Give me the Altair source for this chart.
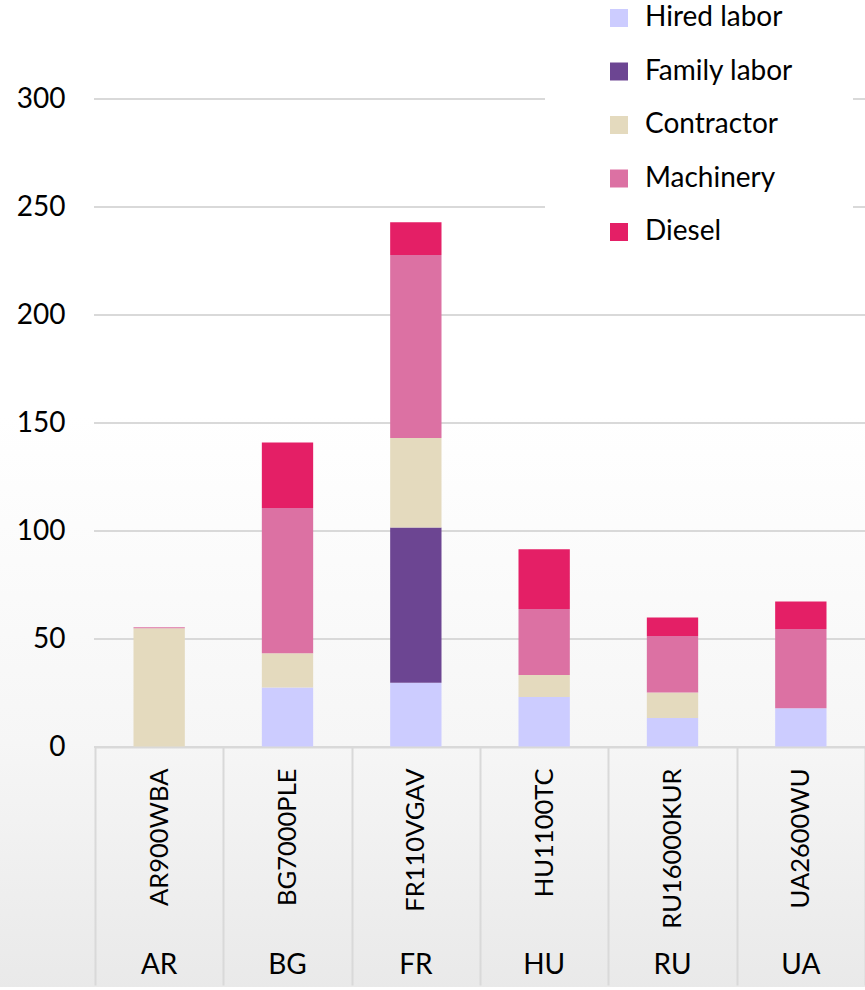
import altair as alt
import pandas as pd

farms = ["AR900WBA", "BG7000PLE", "FR110VGAV", "HU1100TC", "RU16000KUR", "UA2600WU"]
series = ["Hired labor", "Family labor", "Contractor", "Machinery", "Diesel"]
colors = ["#CCCCFF", "#6C4592", "#E4DABE", "#DC71A3", "#E41F66"]

hired = [0.0, 27.5, 29.7, 23.1, 13.4, 17.9]
family = [0.0, 0.0, 71.9, 0.0, 0.0, 0.0]
contractor = [55.0, 15.9, 41.5, 10.2, 11.8, 0.0]
machinery = [0.4, 67.2, 84.7, 30.6, 26.2, 36.7]
diesel = [0.0, 30.4, 15.1, 27.6, 8.6, 12.8]

y_ticks = [0, 50, 100, 150, 200, 250, 300]

values = [hired, family, contractor, machinery, diesel]
rows = []
for i, s in enumerate(series):
    for j, f in enumerate(farms):
        rows.append({"farm": f, "series": s, "idx": i, "value": values[i][j]})
df = pd.DataFrame(rows)
ticks_df = pd.DataFrame({"tick": y_ticks})

FONT = "Lato"
FS = 28
W, H = 770, 648
PAD_L, PAD_T, PAD_B = 95, 99, 240

x_scale = alt.Scale(domain=farms, paddingInner=0, paddingOuter=0)
y_scale = alt.Scale(domain=[0, 300], nice=False)

bg = alt.Chart(alt.Data(values=[{"a": 1}])).mark_rect(
    fill=alt.LinearGradient(
        gradient="linear",
        x1=0, x2=0, y1=0, y2=1,
        stops=[
            alt.GradientStop(offset=0, color="#ffffff"),
            alt.GradientStop(offset=0.42, color="#ffffff"),
            alt.GradientStop(offset=0.75, color="#f6f6f6"),
            alt.GradientStop(offset=1, color="#e9e9e9"),
        ],
    )
).encode(
    x=alt.value(-PAD_L), x2=alt.value(W),
    y=alt.value(-PAD_T), y2=alt.value(H + PAD_B + 3),
)

grid = alt.Chart(ticks_df).mark_rule(color="#d9d9d9", strokeWidth=2).encode(
    y=alt.Y("tick:Q", scale=y_scale, title=None),
    x=alt.value(-1), x2=alt.value(W),
)

bars = alt.Chart(df).mark_bar(width=alt.RelativeBandSize(0.4)).encode(
    x=alt.X(
        "farm:N", scale=x_scale, title=None,
        axis=alt.Axis(
            orient="bottom", labelAngle=270, tickBand="extent", tickSize=238,
            tickColor="#d9d9d9", tickWidth=2, domainColor="#d9d9d9", domainWidth=2,
            labelPadding=-217, labelFontSize=25.5, labelFont=FONT, labelColor="#000000",
            grid=False, zindex=1,
        ),
    ),
    y=alt.Y(
        "value:Q", stack="zero", title=None, scale=y_scale,
        axis=alt.Axis(
            values=y_ticks, domain=False, ticks=False, labelPadding=30, grid=False,
            labelFontSize=FS, labelFont=FONT, labelColor="#000000", zindex=1,
        ),
    ),
    color=alt.Color(
        "series:N",
        scale=alt.Scale(domain=series, range=colors),
        legend=alt.Legend(
            title=None, orient="none", legendX=450, legendY=-155,
            symbolType="square", symbolSize=324, symbolStrokeWidth=0,
            labelFont=FONT, labelFontSize=FS, labelColor="#000000", labelOffset=12,
            rowPadding=25.5, padding=60, fillColor="#ffffff", zindex=2,
        ),
    ),
    order=alt.Order("idx:Q", sort="ascending"),
)

countries = alt.Chart(df).mark_point(opacity=0, size=1).encode(
    x=alt.X(
        "farm:N", scale=x_scale, title=None,
        axis=alt.Axis(
            orient="bottom", domain=False, ticks=False, grid=False, labelAngle=0,
            labelPadding=204, labelFontSize=FS, labelFont=FONT, labelColor="#000000",
            labelExpr="slice(datum.label, 0, 2)", zindex=1,
        ),
    ),
    y=alt.value(0),
)

chart = alt.layer(bg, grid, bars, countries).resolve_axis(x="independent").properties(
    width=W, height=H,
    autosize=alt.AutoSizeParams(type="none"),
    padding={"left": PAD_L, "top": PAD_T, "right": 0, "bottom": PAD_B},
).configure_view(stroke=None)

chart.save("out.html", embed_options={"renderer": "svg", "actions": False})
